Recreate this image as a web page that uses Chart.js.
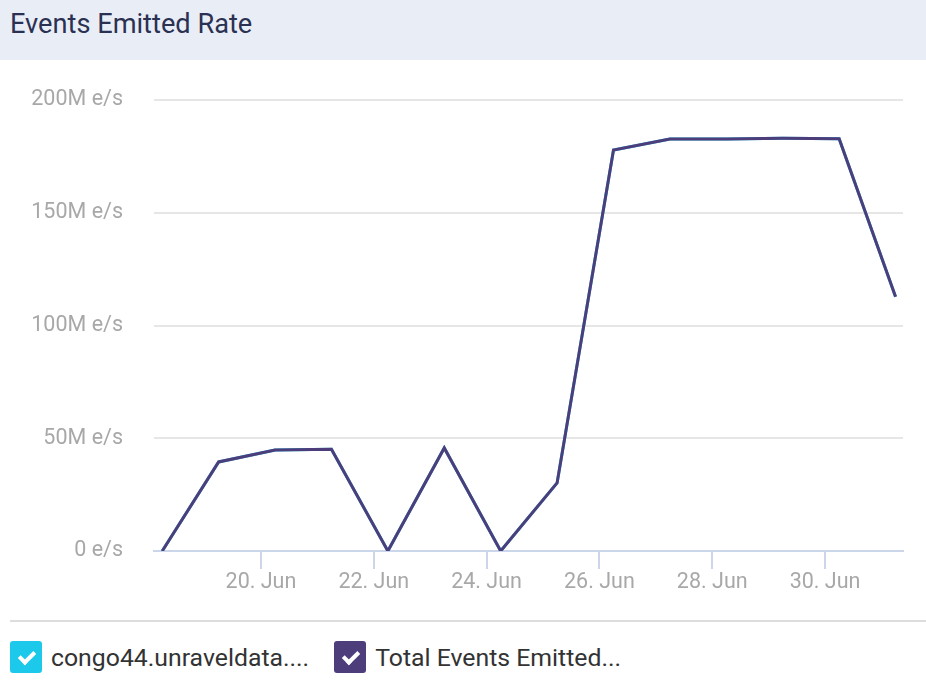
<!DOCTYPE html>
<html>
<head>
<meta charset="utf-8">
<script src="https://cdn.jsdelivr.net/npm/chart.js@4.4.0/dist/chart.umd.min.js"></script>
<style>
  body { margin: 0; width: 926px; height: 684px; background: #fff; overflow: hidden; font-family: Roboto, sans-serif; }
  #title { height: 60px; background: #e9eef6; color: #2b3152; font-size: 27.2px; line-height: 48px; padding-left: 10px; }
  #wrap { position: relative; width: 926px; height: 560px; }
  #sep { margin-left: 10px; height: 2px; background: #dddddd; }
  #legend { display: flex; padding-left: 10px; margin-top: 19px; }
  .item { display: flex; align-items: center; margin-right: 25px; color: #333; font-size: 24.8px; }
  .box { position: relative; width: 32px; height: 32px; border-radius: 3px; margin-right: 9px; }
  .box::after { content: ''; position: absolute; left: 12px; top: 7px; width: 6px; height: 12px;
    border-right: 4px solid #fff; border-bottom: 4px solid #fff; transform: rotate(45deg); }
</style>
</head>
<body>
<div id="title">Events Emitted Rate</div>
<div id="wrap"><canvas id="chart"></canvas></div>
<div id="sep"></div>
<div id="legend"></div>
<script>
const times = ['2021-06-18T06:00Z', '2021-06-19T06:00Z', '2021-06-20T06:00Z', '2021-06-21T06:00Z',
  '2021-06-22T06:00Z', '2021-06-23T06:00Z', '2021-06-24T06:00Z', '2021-06-25T06:00Z',
  '2021-06-26T06:00Z', '2021-06-27T06:00Z', '2021-06-28T06:00Z', '2021-06-29T06:00Z',
  '2021-06-30T06:00Z', '2021-07-01T06:00Z'];
// events per second, millions
const totalRate = [0, 39.5, 44.8, 45.1, 0, 45.7, 0, 30.2, 177.8, 182.7, 182.7, 183.0, 182.8, 112.7];
const hostRate = [0, 39.5, 44.8, 45.1, 0, 45.7, 0, 30.2, 177.8, 182.7, 182.7, 183.0, 182.8, 112.7];
const seriesNames = ['congo44.unraveldata....', 'Total Events Emitted...'];
const seriesColors = ['#1dc9ea', '#4d3d7b'];
const tickDates = ['2021-06-20', '2021-06-22', '2021-06-24', '2021-06-26', '2021-06-28', '2021-06-30'];
const yTicks = [0, 50, 100, 150, 200];
const months = ['Jan', 'Feb', 'Mar', 'Apr', 'May', 'Jun', 'Jul', 'Aug', 'Sep', 'Oct', 'Nov', 'Dec'];
const xMin = Date.parse('2021-06-18T02:30Z');
const xMax = Date.parse('2021-07-01T09:10Z');

function toPoints(vals) {
  return vals.map((v, i) => ({ x: Date.parse(times[i]), y: v * 1e6 }));
}

const tickFont = { family: 'Roboto', size: 21.5 };

new Chart(document.getElementById('chart'), {
  type: 'line',
  data: {
    datasets: [
      { label: seriesNames[1], data: toPoints(totalRate), borderColor: seriesColors[1], borderWidth: 3, pointRadius: 0, tension: 0, order: 0 },
      { label: seriesNames[0], data: toPoints(hostRate), borderColor: seriesColors[0], borderWidth: 3, pointRadius: 0, tension: 0, order: 1 }
    ]
  },
  options: {
    responsive: true,
    maintainAspectRatio: false,
    animation: false,
    layout: { padding: { top: 40, right: 23, left: 0, bottom: 0 } },
    plugins: { legend: { display: false }, tooltip: { enabled: false } },
    scales: {
      x: {
        type: 'linear',
        min: xMin,
        max: xMax,
        afterBuildTicks: s => { s.ticks = tickDates.map(d => ({ value: Date.parse(d + 'T00:00Z') })); },
        afterFit: s => { s.height = 69; },
        grid: { drawOnChartArea: false, drawTicks: true, tickLength: 18, color: '#ccd6eb', lineWidth: 2 },
        border: { color: '#ccd6eb', width: 2 },
        ticks: {
          font: tickFont, color: '#a8a8a8', padding: 1, maxRotation: 0,
          callback: v => { const d = new Date(v); return d.getUTCDate() + '. ' + months[d.getUTCMonth()]; }
        }
      },
      y: {
        min: 0,
        max: 200e6,
        afterBuildTicks: s => { s.ticks = yTicks.map(v => ({ value: v * 1e6 })); },
        afterFit: s => { s.width = 154; s.paddingTop = 0; s.paddingBottom = 0; },
        grid: { drawTicks: false, lineWidth: 2, color: c => c.tick && c.tick.value === 0 ? 'rgba(0,0,0,0)' : '#e6e6e6' },
        border: { display: false },
        ticks: {
          font: tickFont, color: '#a8a8a8', padding: 31,
          callback: v => (v === 0 ? '0' : (v / 1e6) + 'M') + ' e/s'
        }
      }
    }
  }
});

const legend = document.getElementById('legend');
seriesNames.forEach((name, i) => {
  const item = document.createElement('div');
  item.className = 'item';
  const box = document.createElement('span');
  box.className = 'box';
  box.style.background = seriesColors[i];
  const label = document.createElement('span');
  label.textContent = name;
  item.appendChild(box);
  item.appendChild(label);
  legend.appendChild(item);
});
</script>
</body>
</html>
